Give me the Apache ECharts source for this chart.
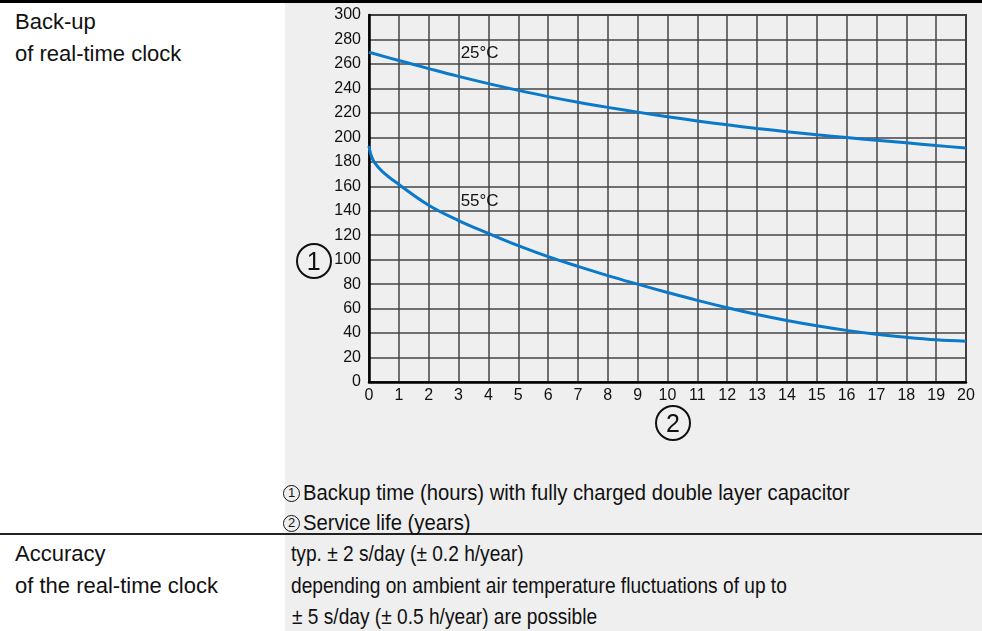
<!DOCTYPE html>
<html>
<head>
<meta charset="utf-8">
<title>Back-up of real-time clock</title>
<script src="https://cdn.jsdelivr.net/npm/echarts@6/dist/echarts.min.js"></script>
<style>
	body {margin: 0; width: 982px; height: 631px; position: relative; overflow: hidden; background: #fff; color: #111;}
	.bar {position: absolute; background: #000;}
	.panel {position: absolute; background: #efefef;}
	.head {position: absolute; left: 15px; font: 22px/22px "Liberation Sans", Arial, sans-serif; white-space: nowrap;}
	.txt {position: absolute; font: 22px/22px "Liberation Sans", Arial, sans-serif; white-space: nowrap; transform-origin: 0 0;}
	.col {transform: scaleX(0.87);}
	.note {transform: scaleX(0.92);}
	.circ {position: absolute; border: 2px solid #111; border-radius: 50%; box-sizing: border-box; text-align: center;
		font-family: "Liberation Sans", Arial, sans-serif;}
	.big {width: 36px; height: 36px; font-size: 25px; line-height: 32px;}
	.small {width: 17px; height: 17px; border-width: 1.5px; font-size: 13px; line-height: 14px;}
	#chart {position: absolute; left: 0; top: 0; width: 982px; height: 631px;}
</style>
</head>
<body>
<!-- 表格底色和分隔线 -->
<div class="panel" style="left:285px;top:3px;width:697px;height:530px;"></div>
<div class="panel" style="left:285px;top:535px;width:697px;height:96px;"></div>
<div class="bar" style="left:0;top:0;width:982px;height:3.3px;"></div>
<div class="bar" style="left:0;top:532.5px;width:982px;height:2.5px;background:#222;"></div>

<div class="head" style="top:10.7px;">Back-up</div>
<div class="head" style="top:43px;">of real-time clock</div>
<div class="head" style="top:543px;">Accuracy</div>
<div class="head" style="top:574.7px;">of the real-time clock</div>

<div class="txt col" style="left:291px;top:543px;">typ. ± 2 s/day (± 0.2 h/year)</div>
<div class="txt col" style="left:291px;top:574.7px;">depending on ambient air temperature fluctuations of up to</div>
<div class="txt col" style="left:292px;top:606.3px;">± 5 s/day (± 0.5 h/year) are possible</div>

<!-- 图注 -->
<div class="circ small" style="left:283px;top:484.5px;">1</div>
<div class="txt note" style="left:303px;top:482px;">Backup time (hours) with fully charged double layer capacitor</div>
<div class="circ small" style="left:283px;top:514.5px;">2</div>
<div class="txt note" style="left:303px;top:512px;">Service life (years)</div>

<div id="chart"></div>

<!-- 坐标轴编号 -->
<div class="circ big" style="left:295.7px;top:243.3px;">1</div>
<div class="circ big" style="left:655px;top:405px;">2</div>

<script>
	/**
	 * 数据
	 */
	var years = [0, 1, 2, 3, 4, 5, 6, 7, 8, 9, 10, 11, 12, 13, 14, 15, 16, 17, 18, 19, 20];
	var backup25 = [269.5, 262.8, 256.2, 249.8, 243.9, 238.4, 233.3, 228.7, 224.5, 220.6, 216.9, 213.4, 210.2, 207.3, 204.6, 202.1, 199.8, 197.6, 195.5, 193.3, 191.2];
	var years55 = [0, 0.06, 0.17, 0.45, 1, 2, 3, 4, 5, 6, 7, 8, 9, 10, 11, 12, 13, 14, 15, 16, 17, 18, 19, 20];
	var backup55 = [193, 186, 180, 172, 161.5, 144.5, 132, 121.5, 111.5, 102.5, 94.5, 87, 80, 73.2, 66.7, 60.7, 55.2, 50.3, 46, 42.2, 39, 36.5, 34.5, 33.3];
	var curveNames = ['25°C', '55°C'];
	var curveLabelAt = [[3.07, 269], [3.07, 148]];// 曲线标注位置(数据坐标)

	function pairs(xs, ys) {
		var arr = [];
		for (var i = 0; i < xs.length; i++) {
			arr.push([xs[i], ys[i]]);
		}
		return arr;
	}

	var tickFont = {
		fontFamily: '"Liberation Sans", Arial, sans-serif',
		fontSize: 16,
		color: '#111'
	};
	var gridLine = {show: true, lineStyle: {color: '#444', width: 1.5}};

	var chart = echarts.init(document.getElementById('chart'));
	var option = {
		animation: false,
		backgroundColor: 'transparent',
		grid: {
			left: 369, top: 15, right: 16, bottom: 249,
			show: true,
			borderColor: '#333',
			borderWidth: 2
		},
		xAxis: {
			type: 'value',
			min: 0, max: 20, interval: 1,
			axisLine: {show: true, onZero: false, lineStyle: {color: '#000', width: 2.5}},
			axisTick: {show: false},
			axisLabel: Object.assign({margin: 6}, tickFont),
			splitLine: gridLine
		},
		yAxis: {
			type: 'value',
			min: 0, max: 300, interval: 20,
			axisLine: {show: true, onZero: false, lineStyle: {color: '#000', width: 2.5}},
			axisTick: {show: false},
			axisLabel: Object.assign({margin: 8}, tickFont),
			splitLine: gridLine
		},
		series: [
			{
				name: curveNames[0],
				type: 'line',
				data: pairs(years, backup25),
				smooth: 0.4,
				symbol: 'none',
				lineStyle: {color: '#0b79c9', width: 3}
			},
			{
				name: curveNames[1],
				type: 'line',
				data: pairs(years55, backup55),
				smooth: 0.4,
				symbol: 'none',
				lineStyle: {color: '#0b79c9', width: 3}
			}
		]
	};
	chart.setOption(option);

	// 曲线温度标注
	var texts = [];
	for (var k = 0; k < curveNames.length; k++) {
		var p = chart.convertToPixel({gridIndex: 0}, curveLabelAt[k]);
		texts.push({
			type: 'text',
			x: p[0], y: p[1],
			style: {
				text: curveNames[k],
				fill: '#111',
				font: '17px "Liberation Sans", Arial, sans-serif',
				align: 'left',
				verticalAlign: 'middle'
			}
		});
	}
	chart.setOption({graphic: texts});
</script>
</body>
</html>
